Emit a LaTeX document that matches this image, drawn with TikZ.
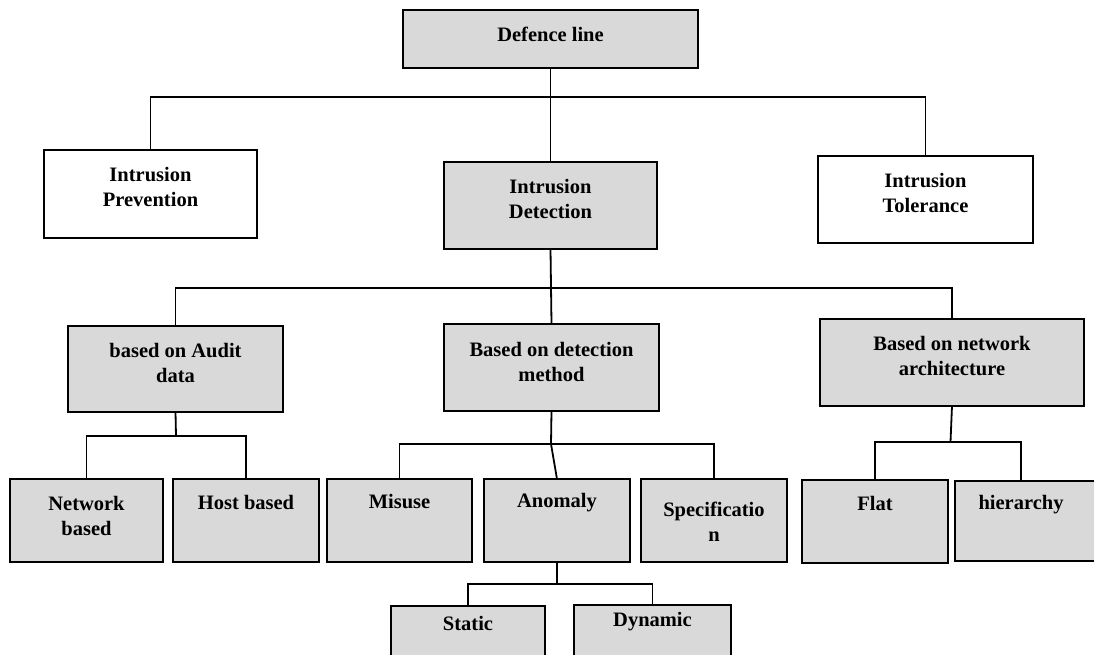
\documentclass[tikz,border=0pt]{standalone}
\usepackage{fontspec}
\setmainfont{Liberation Serif}
\definecolor{boxgray}{HTML}{D9D9D9}
\tikzset{
  boxst/.style={draw=black, line width=2.4pt, inner sep=0pt, outer sep=0pt},
  lbl/.style={font=\fontsize{20.5}{25}\selectfont\bfseries, align=center, inner sep=0pt},
  conn/.style={draw=black, line width=1.8pt},
}
\newcommand\mybox[6]{%
  \node[boxst, fill=#6, minimum width={#4-#2}, minimum height={#5-#3}] (#1) at ({(#2+#4)/2},{(#3+#5)/2}) {};}
\begin{document}
\begin{tikzpicture}[x=1pt,y=-1pt]
\useasboundingbox (0,0) rectangle (1094,654);
\begin{scope}
\clip (0,0) rectangle (1094,654);
% boxes
\mybox{def}{403}{10}{698}{68}{boxgray}
\mybox{prev}{44}{150}{257}{238}{white}
\mybox{det}{444}{162}{657}{249}{boxgray}
\mybox{tol}{818}{156}{1033}{243}{white}
\mybox{aud}{68}{326}{283}{412}{boxgray}
\mybox{meth}{444}{324}{659}{411}{boxgray}
\mybox{arch}{820}{319}{1084}{406}{boxgray}
\mybox{netb}{10}{479}{163}{562}{boxgray}
\mybox{host}{173}{479}{319}{562}{boxgray}
\mybox{mis}{327}{479}{472}{562}{boxgray}
\mybox{ano}{484}{479}{630}{562}{boxgray}
\mybox{spec}{641}{479}{787}{562}{boxgray}
\mybox{flat}{802}{480}{948}{563}{boxgray}
\mybox{hier}{955}{481}{1115}{561}{boxgray}
\mybox{stat}{391}{606}{545}{700}{boxgray}
\mybox{dyn}{574}{605}{731}{700}{boxgray}
% labels
\node[lbl] (tdef) at (550.5,34) {Defence line};
\node[lbl] (tprev) at (150.5,187) {Intrusion\\Prevention};
\node[lbl] (tdet) at (550.5,199) {Intrusion\\Detection};
\node[lbl] (ttol) at (925.5,193) {Intrusion\\Tolerance};
\node[lbl] (taud) at (175.5,363) {based on Audit\\data};
\node[lbl] (tmeth) at (551.5,362) {Based on detection\\method};
\node[lbl] (tarch) at (952,356) {Based on network\\architecture};
\node[lbl] (tnetb) at (86.5,516) {Network\\based};
\node[lbl] (thost) at (246,502) {Host based};
\node[lbl] (tmis) at (399.5,502) {Misuse};
\node[lbl] (tano) at (557,503) {Anomaly};
\node[lbl] (tspec) at (714,522) {Specificatio\\n};
\node[lbl] (tflat) at (875,503) {Flat};
\node[lbl] (thier) at (1021,505) {hierarchy};
\node[lbl] (tstat) at (468,623) {Static};
\node[lbl] (tdyn) at (652.5,622) {Dynamic};
% junctions
\coordinate (j1) at (550.5,97);
\coordinate (j2) at (551,288);
\coordinate (j3) at (176,436);
\coordinate (j4) at (551,444);
\coordinate (j5) at (950.5,442);
\coordinate (j6) at (557,584);
\coordinate (hj) at (1021,481);
% connectors
\draw[conn] (def.south) -- (det.north);
\draw[conn] (prev.north) |- (j1) -| (tol.north);
\draw[conn] (det.south) -- (meth.north);
\draw[conn] (aud.north) |- (j2) -| (arch.north);
\draw[conn] (aud.south) -- (j3);
\draw[conn] (netb.north) |- (j3) -| (host.north);
\draw[conn] (meth.south) -- (j4);
\draw[conn] (mis.north) |- (j4) -| (spec.north);
\draw[conn] (j4) -- (ano.north);
\draw[conn] (arch.south) -- (j5);
\draw[conn] (flat.north) |- (j5) -| (hj);
\draw[conn] (ano.south) -- (j6);
\draw[conn] (stat.north) |- (j6) -| (dyn.north);
\end{scope}
\end{tikzpicture}
\end{document}
